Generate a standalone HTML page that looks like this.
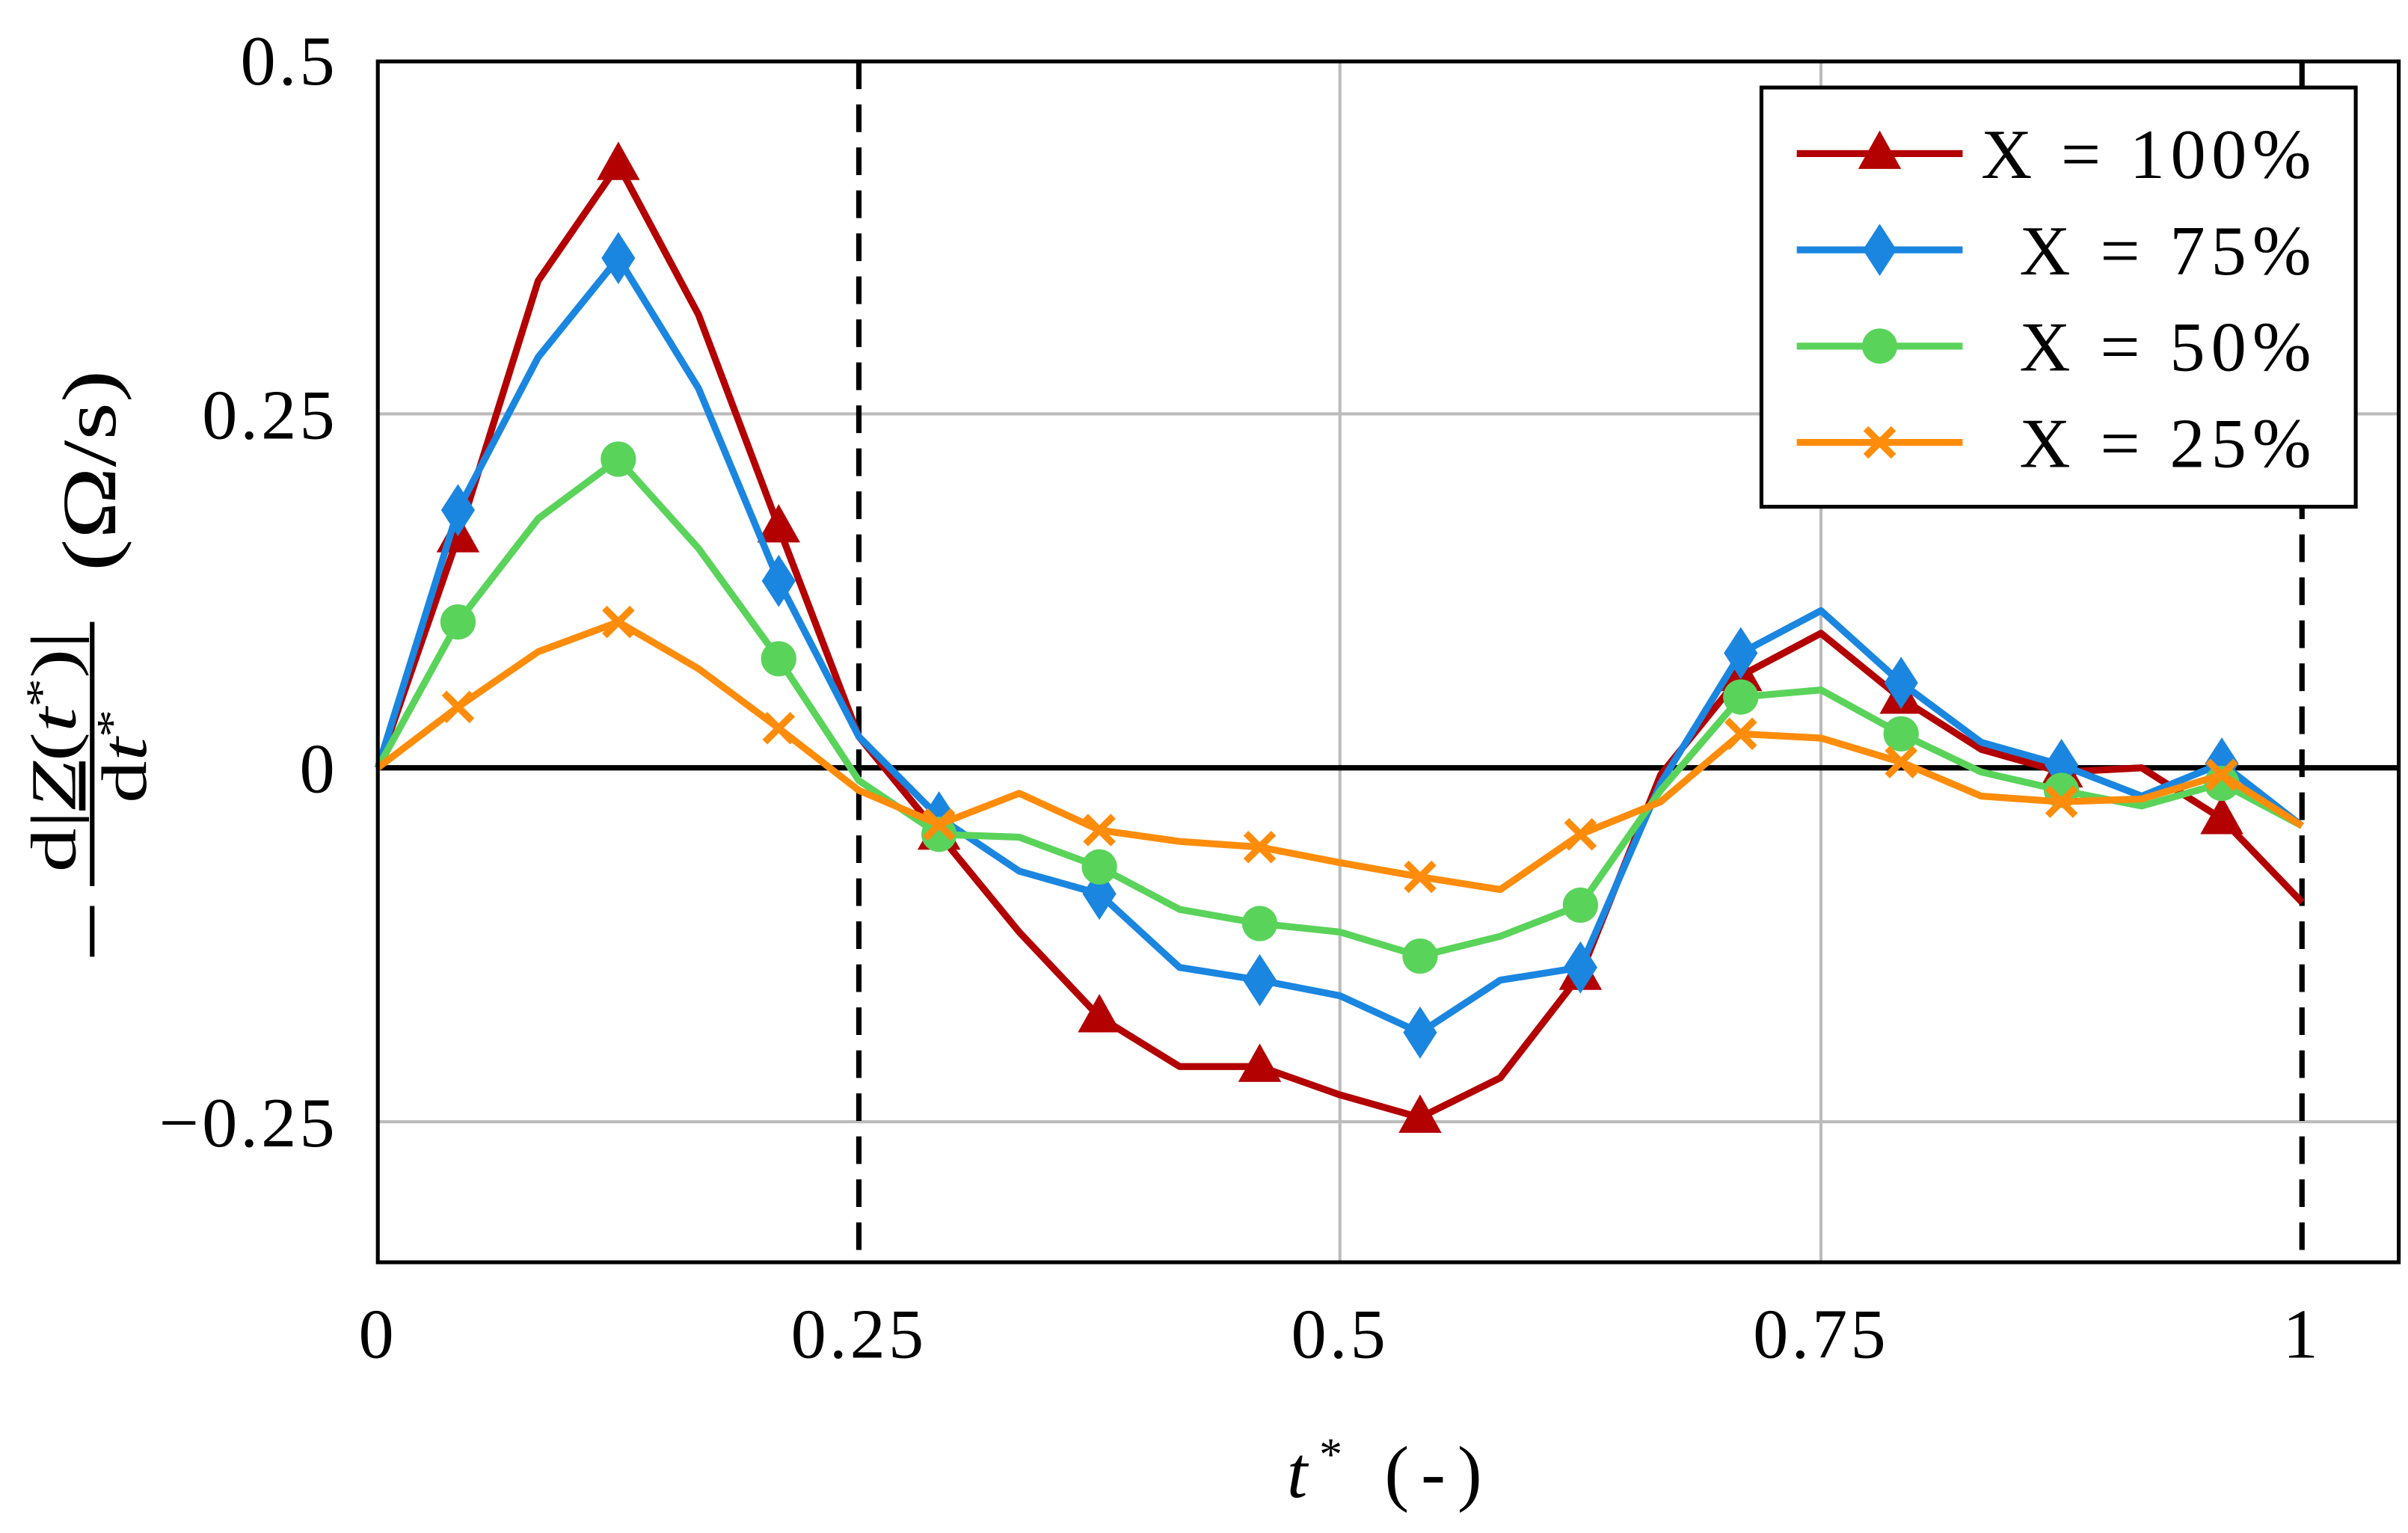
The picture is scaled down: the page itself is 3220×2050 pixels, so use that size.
<!DOCTYPE html>
<html><head><meta charset="utf-8"><style>
html,body{margin:0;padding:0;background:#fff;}
svg{display:block;}
text{font-family:"Liberation Serif","DejaVu Serif",serif;fill:#000;}
</style></head><body>
<svg id="chart" width="3220" height="2050" viewBox="0 0 1568 998.3">
<g id="grid"></g>
<g id="series"></g>
<rect x="246" y="40" width="1316" height="782" fill="none" stroke="#000" stroke-width="2.5"/>
<g id="ticks"></g>
<text x="838" y="975" font-size="48" textLength="127" lengthAdjust="spacing"><tspan font-style="italic">t</tspan><tspan font-size="30" dy="-18">*</tspan><tspan dy="18">  (-)</tspan></text>
<g>
<line x1="60" y1="590" x2="60" y2="623" stroke="#000" stroke-width="3"/>
<line x1="60" y1="405" x2="60" y2="577" stroke="#000" stroke-width="3"/>
<text transform="translate(49,568) rotate(-90)" font-size="42" textLength="157" lengthAdjust="spacingAndGlyphs">d|<tspan font-style="italic" text-decoration="underline">Z</tspan>(<tspan font-style="italic">t</tspan><tspan font-size="28" dy="-13">*</tspan><tspan dy="13">)|</tspan></text>
<text transform="translate(95,523) rotate(-90)" font-size="42" textLength="61" lengthAdjust="spacingAndGlyphs">d<tspan font-style="italic">t</tspan><tspan font-size="28" dy="-13">*</tspan></text>
<text transform="translate(75,372) rotate(-90)" font-size="50" textLength="131" lengthAdjust="spacingAndGlyphs">(Ω/s)</text>
</g>
<g id="legend">
<rect x="1147" y="57" width="387" height="273" fill="#fff" stroke="#000" stroke-width="2.5"/>
</g>
</svg>
<script>
const tValues = [0,1,2,3,4,5,6,7,8,9,10,11,12,13,14,15,16,17,18,19,20,21,22,23,24].map(k=>k/24);
const x100 = [0,0.163,0.344,0.426,0.32,0.17,0.022,-0.047,-0.116,-0.176,-0.211,-0.211,-0.231,-0.247,-0.219,-0.146,-0.005,0.065,0.095,0.049,0.013,-0.003,0.0,-0.036,-0.095];
const x75 = [0,0.182,0.29,0.36,0.268,0.132,0.022,-0.035,-0.073,-0.089,-0.141,-0.15,-0.161,-0.187,-0.15,-0.141,-0.011,0.081,0.111,0.06,0.018,0.002,-0.02,0.003,-0.041];
const x50 = [0,0.103,0.176,0.218,0.155,0.077,-0.009,-0.047,-0.049,-0.07,-0.1,-0.11,-0.116,-0.133,-0.119,-0.097,-0.016,0.05,0.055,0.024,-0.003,-0.016,-0.027,-0.011,-0.041];
const x25 = [0,0.043,0.082,0.103,0.07,0.028,-0.016,-0.04,-0.018,-0.044,-0.052,-0.056,-0.067,-0.077,-0.086,-0.047,-0.024,0.024,0.021,0.004,-0.02,-0.024,-0.022,-0.005,-0.041];
const seriesNames = ["X = 100%","X = 75%","X = 50%","X = 25%"];
const xTicks = [0,0.25,0.5,0.75,1];
const xTickLabels = ["0","0.25","0.5","0.75","1"];
const yTicks = [-0.25,0,0.25,0.5];
const yTickLabels = ["−0.25","0","0.25","0.5"];

const NS="http://www.w3.org/2000/svg";
const X = v => 246 + v*1253;
const Y = v => 500 - v*922;
function mk(tag, attrs, parent){const e=document.createElementNS(NS,tag);for(const k in attrs)e.setAttribute(k,attrs[k]);parent.appendChild(e);return e;}
const grid=document.getElementById('grid'), ser=document.getElementById('series'), ticks=document.getElementById('ticks'), leg=document.getElementById('legend');

xTicks.forEach((v,i)=>{
  if(v>0 && v<1 && v!==0.25){const g=mk('line',{x1:X(v),x2:X(v),y1:40,y2:822,stroke:'#bbb','stroke-width':2},grid);
  
  }
  const t=mk('text',{x:X(v),y:884,'font-size':46,'text-anchor':'middle','letter-spacing':2},ticks);
  t.textContent=xTickLabels[i];
  
  
});
yTicks.forEach((v,i)=>{
  if(v!==0 && v!==0.5){const g=mk('line',{x1:246,x2:1562,y1:Y(v),y2:Y(v),stroke:'#bbb','stroke-width':2},grid);
  
  }
  const t=mk('text',{x:220,y:Y(v)+16,'font-size':46,'text-anchor':'end','letter-spacing':2},ticks);
  t.textContent=yTickLabels[i];
  
  
});
[0.25,1].forEach(v=>{
  const d=mk('line',{x1:X(v),x2:X(v),y1:40,y2:822,stroke:'#000','stroke-width':3.5,'stroke-dasharray':'18 10'},grid);
  
  
});
const z=mk('line',{x1:246,x2:1562,y1:Y(0),y2:Y(0),stroke:'#000','stroke-width':3.5},grid);



const colors=['#b30000','#1a86e0','#5ad35a','#ff8c0a'];
const shapes=['tri','dia','circ','x'];
function marker(shape,cx,cy,col,parent){
  let m;
  if(shape==='tri') m=mk('polygon',{points:`${cx},${cy-15} ${cx-14},${cy+10} ${cx+14},${cy+10}`,fill:col},parent);
  else if(shape==='dia') m=mk('polygon',{points:`${cx},${cy-17} ${cx+11},${cy} ${cx},${cy+17} ${cx-11},${cy}`,fill:col},parent);
  else if(shape==='circ') m=mk('circle',{cx:cx,cy:cy,r:11.5,fill:col},parent);
  else m=mk('path',{d:`M${cx-9},${cy-9}L${cx+9},${cy+9}M${cx-9},${cy+9}L${cx+9},${cy-9}`,stroke:col,'stroke-width':4.5,fill:'none'},parent);
  return m;
}
const legendWidths=[215,190,190,190];
[x100,x75,x50,x25].forEach((arr,si)=>{
  const col=colors[si];
  const g=mk('g',{},ser);
  
  
  const pl=mk('polyline',{points:arr.map((v,i)=>X(tValues[i])+','+Y(v)).join(' '),fill:'none',stroke:col,'stroke-width':4.5,'stroke-linejoin':'round'},g);
  
  
  arr.forEach((v,i)=>{ if(i%2===1){ const m=marker(shapes[si],X(tValues[i]),Y(v),col,g);
    
     }});
  const ly=100+si*62.7;
  const ll=mk('line',{x1:1170,x2:1278,y1:ly,y2:ly,stroke:col,'stroke-width':4.5},leg);
  
  
  const lm=marker(shapes[si],1224,ly,col,leg);
  
  
  const lt=mk('text',{x:1505-legendWidths[si],y:ly+16,'font-size':46,textLength:legendWidths[si],lengthAdjust:'spacing'},leg);
  lt.textContent=seriesNames[si];
  
  
});
</script>
</body></html>
